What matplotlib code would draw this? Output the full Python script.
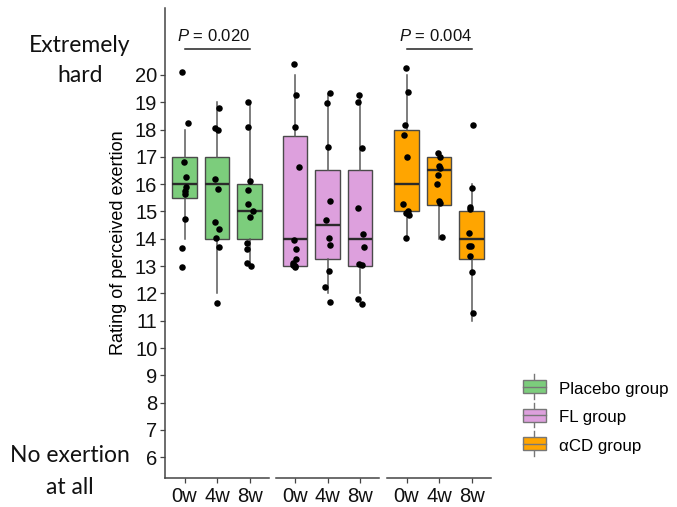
import matplotlib
matplotlib.use("Agg")
import matplotlib.pyplot as plt
from matplotlib.patches import Rectangle
from matplotlib.lines import Line2D
from matplotlib.legend_handler import HandlerBase

plt.rcParams["font.family"] = ["Liberation Sans", "DejaVu Sans"]
plt.rcParams["mathtext.fontset"] = "custom"
plt.rcParams["mathtext.it"] = "Liberation Sans:italic"
plt.rcParams["mathtext.rm"] = "Liberation Sans"

# ---- data -------------------------------------------------------------
timepoints = ["0w", "4w", "8w"]
groups = ["Placebo group", "FL group", "\u03b1CD group"]
colors = ["#7CCD7C", "#DDA0DD", "#FFA500"]

# box summaries (lower whisker, Q1, median, Q3, upper whisker) per time point
placebo_whislo = [14, 12, 13]
placebo_q1 = [15.5, 14, 14]
placebo_med = [16, 16, 15]
placebo_q3 = [17, 17, 16]
placebo_whishi = [18, 19, 19]

fl_whislo = [13, 12, 12]
fl_q1 = [13, 13.25, 13]
fl_med = [14, 14.5, 14]
fl_q3 = [17.75, 16.5, 16.5]
fl_whishi = [20, 19.3, 19.3]

acd_whislo = [14, 14, 11]
acd_q1 = [15, 15.25, 13.25]
acd_med = [16, 16.5, 14]
acd_q3 = [18, 17, 15]
acd_whishi = [20, 17, 16]

# individual ratings (jittered)
placebo_0w = [20.1, 18.25, 16.82, 16.25, 15.88, 15.76, 15.63, 14.72, 13.66, 12.97]
placebo_4w = [18.8, 18.05, 18.0, 16.18, 15.84, 14.62, 14.34, 14.03, 13.7, 11.64]
placebo_8w = [19.0, 18.1, 16.12, 15.78, 15.29, 15.02, 14.78, 13.85, 13.64, 13.12, 13.01]
fl_0w = [20.4, 19.26, 18.08, 16.63, 13.97, 13.63, 13.26, 13.12, 13.05, 13.0, 12.97]
fl_4w = [19.34, 18.98, 17.36, 15.37, 14.68, 14.03, 13.77, 12.81, 12.24, 11.67]
fl_8w = [19.28, 19.0, 17.32, 15.13, 14.19, 13.7, 13.07, 13.04, 11.79, 11.62]
acd_0w = [20.26, 19.37, 18.17, 17.79, 16.98, 15.27, 14.93, 15.02, 14.86, 14.01]
acd_4w = [17.15, 16.98, 16.66, 16.6, 16.34, 16.02, 15.38, 15.32, 14.07]
acd_8w = [18.16, 15.85, 15.15, 15.1, 14.22, 13.73, 13.73, 13.38, 12.8, 11.3]

# horizontal jitter of each dot
placebo_jit = [[-0.09, 0.10, -0.02, 0.06, 0.05, 0.01, 0.0, 0.01, -0.09, -0.09],
               [0.05, -0.05, 0.03, -0.07, 0.03, -0.07, 0.05, -0.03, 0.07, -0.01],
               [-0.06, -0.04, 0.03, -0.06, -0.06, 0.10, 0.03, -0.08, -0.09, -0.09, 0.06]]
fl_jit = [[-0.03, 0.03, 0.0, 0.10, -0.03, 0.03, 0.03, -0.08, -0.06, 0.0, -0.02],
          [0.08, -0.03, 0.0, 0.07, -0.05, 0.05, 0.08, 0.05, -0.07, 0.08],
          [-0.03, -0.06, 0.06, -0.05, 0.10, 0.13, -0.03, 0.08, -0.04, 0.06]]
acd_jit = [[-0.03, 0.05, -0.04, -0.08, 0.0, -0.11, -0.02, 0.05, 0.09, -0.03],
           [-0.03, 0.03, -0.01, 0.02, -0.03, -0.05, 0.0, 0.03, 0.09],
           [0.06, 0.03, -0.06, -0.04, -0.08, -0.09, -0.01, -0.06, 0.03, 0.06]]

p_labels = ["0.020", None, "0.004"]

yticks = list(range(6, 21))

# ---- figure -----------------------------------------------------------
W, H = 677, 507
fig = plt.figure(figsize=(W / 100, H / 100), dpi=100)

panel_px = [(165, 269), (276, 379), (387, 491)]
top_px, bot_px = 8, 478
ylim = (5.24, 22.45)

summaries = [
    (placebo_whislo, placebo_q1, placebo_med, placebo_q3, placebo_whishi),
    (fl_whislo, fl_q1, fl_med, fl_q3, fl_whishi),
    (acd_whislo, acd_q1, acd_med, acd_q3, acd_whishi),
]
points = [
    (placebo_0w, placebo_4w, placebo_8w),
    (fl_0w, fl_4w, fl_8w),
    (acd_0w, acd_4w, acd_8w),
]
jitters = [placebo_jit, fl_jit, acd_jit]

edge = "#4a4a4a"
axes = []
for g, (x0, x1) in enumerate(panel_px):
    ax = fig.add_axes([x0 / W, 1 - bot_px / H, (x1 - x0) / W, (bot_px - top_px) / H])
    axes.append(ax)
    lo, q1, med, q3, hi = summaries[g]
    stats = [dict(whislo=lo[i], q1=q1[i], med=med[i], q3=q3[i], whishi=hi[i], fliers=[])
             for i in range(3)]
    pos = [1, 2, 3]
    ax.bxp(stats, positions=pos, widths=0.75, patch_artist=True, showcaps=False,
           boxprops=dict(facecolor=colors[g], edgecolor=edge, linewidth=1.0),
           medianprops=dict(color="#2a2a2a", linewidth=1.7),
           whiskerprops=dict(color="#5a5a5a", linewidth=1.1),
           manage_ticks=False, zorder=2)
    for i in range(3):
        xs = [pos[i] + j for j in jitters[g][i]]
        ax.scatter(xs, points[g][i], s=22, color="black", zorder=3, linewidths=0)

    ax.set_xlim(0.4, 3.6)
    ax.set_ylim(*ylim)
    ax.set_xticks(pos)
    ax.set_xticklabels(timepoints, fontsize=14.5)
    for s in ("top", "right"):
        ax.spines[s].set_visible(False)
    ax.spines["bottom"].set_color("#444444")
    ax.spines["bottom"].set_linewidth(1.1)
    ax.tick_params(axis="x", length=3.5, width=0.9, color="#444444", pad=3,
                   labelcolor="#111111")
    if g == 0:
        ax.set_yticks(yticks)
        ax.set_yticklabels([str(t) for t in yticks], fontsize=14.5)
        ax.spines["left"].set_color("#444444")
        ax.spines["left"].set_linewidth(1.1)
        ax.tick_params(axis="y", length=3.5, width=0.9, color="#444444", pad=2,
                       labelcolor="#111111")
        ax.set_ylabel("Rating of perceived exertion", fontsize=13, labelpad=6)
    else:
        ax.spines["left"].set_visible(False)
        ax.set_yticks([])
    ax.patch.set_alpha(0)

    if p_labels[g] is not None:
        ax.plot([1, 3], [20.95, 20.95], color="#222222", lw=1.1, clip_on=False)
        ax.text(1.9, 21.25, r"$P$ = " + p_labels[g], ha="center", va="baseline",
                fontsize=12, color="#111111", clip_on=False)

# scale anchors on the left
anchor_font = dict(ha="center", va="center", fontsize=16.5,
                   family=["Lato", "DejaVu Sans"], color="#111111")
fig.text(80 / W, 1 - 45 / H, "Extremely", **anchor_font)
fig.text(80 / W, 1 - 75 / H, "hard", **anchor_font)
fig.text(70 / W, 1 - 455 / H, "No exertion", **anchor_font)
fig.text(70 / W, 1 - 487 / H, "at all", **anchor_font)


# legend keys drawn as small boxplots
class BoxKey(HandlerBase):
    def create_artists(self, legend, orig, xd, yd, width, height, fontsize, trans):
        fc = orig.get_facecolor()
        ext = height * 0.45
        vline = Line2D([xd + width / 2] * 2, [yd - ext, yd + height + ext],
                       color="#777777", lw=1.0, transform=trans)
        rect = Rectangle((xd, yd), width, height, facecolor=fc, edgecolor="#777777",
                         lw=1.0, transform=trans)
        mline = Line2D([xd, xd + width], [yd + height / 2] * 2, color="#777777",
                       lw=1.0, transform=trans)
        return [vline, rect, mline]


handles = [Rectangle((0, 0), 1, 1, facecolor=c) for c in colors]
fig.legend(handles, groups, handler_map={Rectangle: BoxKey()},
           loc="center left", bbox_to_anchor=(511 / W, 1 - 417.5 / H),
           frameon=False, fontsize=12.2, handlelength=1.35, handleheight=0.8,
           handletextpad=0.8, labelspacing=0.78, borderpad=0.2)

fig.savefig("out.png", dpi=100)
